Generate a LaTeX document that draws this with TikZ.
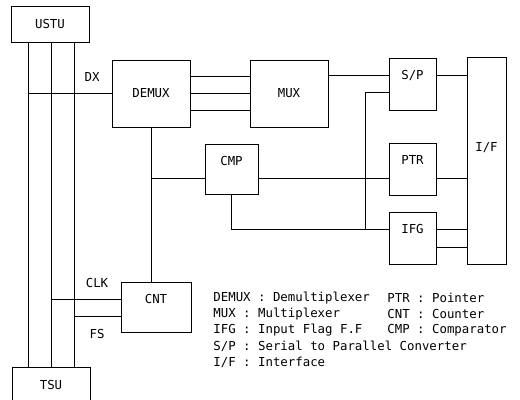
\documentclass[tikz,border=0pt]{standalone}
\usepackage{fontspec}
\setmonofont{DejaVu Sans Mono}
\usetikzlibrary{calc}

\begin{document}
\begin{tikzpicture}[
  x=0.025cm, y=-0.025cm, line width=0.6pt,
  every node/.style={font=\ttfamily\fontsize{8.8}{10}\selectfont},
  bigbox/.style={draw, inner sep=0pt, minimum width=1.95cm, minimum height=1.675cm},
  endbox/.style={draw, inner sep=0pt, minimum width=1.95cm, minimum height=0.9cm},
  sbox/.style={draw, inner sep=0pt, minimum width=1.175cm, text height=0.54cm, text depth=0.76cm},
  mbox/.style={draw, inner sep=0pt, text height=0.54cm, text depth=0.71cm},
  key/.style={anchor=west, inner sep=0pt},
]
\useasboundingbox (0,0) rectangle (520,400);

\node[endbox] (ustu) at (50,24) {USTU};
\node[endbox] (tsu)  at (51,385) {TSU};

\node[bigbox] (demux) at (151,93.5) {DEMUX};
\node[bigbox] (mux)   at (289,93.5) {MUX};

\node[sbox] (sp)  at (412.5,84)  {S/P};
\node[sbox] (ptr) at (412.5,169) {PTR};
\node[sbox] (ifg) at (412.5,238) {IFG};

\node[mbox, minimum width=1.325cm] (cmp) at (231.5,169) {CMP};
\node[mbox, minimum width=1.75cm]  (cnt) at (156,307) {CNT};

\node[draw, inner sep=0pt, minimum width=0.975cm, text height=2.375cm, text depth=2.8cm] (if) at (486.5,160.5) {I/F};

\coordinate (l1) at (28,0);
\coordinate (l2) at (51,0);
\coordinate (l3) at (74,0);
\foreach \l in {l1,l2,l3}
  \draw (ustu.south -| \l) -- (tsu.north -| \l);

\coordinate (spin)  at ($(sp.west)+(0,-9)$);
\coordinate (spin2) at ($(sp.west)+(0,8)$);
\coordinate (cmpin) at ($(cmp.west)+(0,9)$);
\coordinate (ifgin) at ($(ifg.west)+(0,-9)$);
\coordinate (clkin) at ($(cnt.west)+(0,-8)$);
\coordinate (fsin)  at ($(cnt.west)+(0,9)$);

\draw (l1 |- demux.west) -- (demux.west);
\node (dx) at (92,77) {DX};

\foreach \dy in {-17,0,17}
  \draw ($(demux.east)+(0,\dy)$) -- ($(mux.west)+(0,\dy)$);

\draw (spin -| mux.east) -- (spin);
\draw (sp.east |- spin) -- (if.west |- spin);

\draw (demux.south) -- (demux.south |- cnt.north);
\draw (demux.south |- cmpin) -- (cmp.west |- cmpin);
\draw (cmp.east |- cmpin) -- (ptr.west |- cmpin);
\draw (ptr.east |- cmpin) -- (if.west |- cmpin);

\draw (spin2) -- ++(-23,0) coordinate (tap) -- (tap |- ifgin);
\draw (cmp.south) |- (ifgin);
\draw (ifg.east |- ifgin) -- (if.west |- ifgin);
\draw ($(ifg.east)+(0,9)$) -- ($(if.west |- ifg.east)+(0,9)$);

\draw (l2 |- clkin) -- (clkin);
\draw (l3 |- fsin) -- (fsin);
\node (clk) at (97,283) {CLK};
\node (fs)  at (97,334) {FS};

\node[key] (k1) at (213,298) {DEMUX : Demultiplexer};
\node[key] (k2) at (213,314) {MUX : Multiplexer};
\node[key] (k3) at (213,330) {IFG : Input Flag F.F};
\node[key] (k4) at (213,346) {S/P : Serial to Parallel Converter};
\node[key] (k5) at (213,362) {I/F : Interface};
\node[key] (k6) at (387,298) {PTR : Pointer};
\node[key] (k7) at (387,314) {CNT : Counter};
\node[key] (k8) at (387,330) {CMP : Comparator};
\end{tikzpicture}
\end{document}
